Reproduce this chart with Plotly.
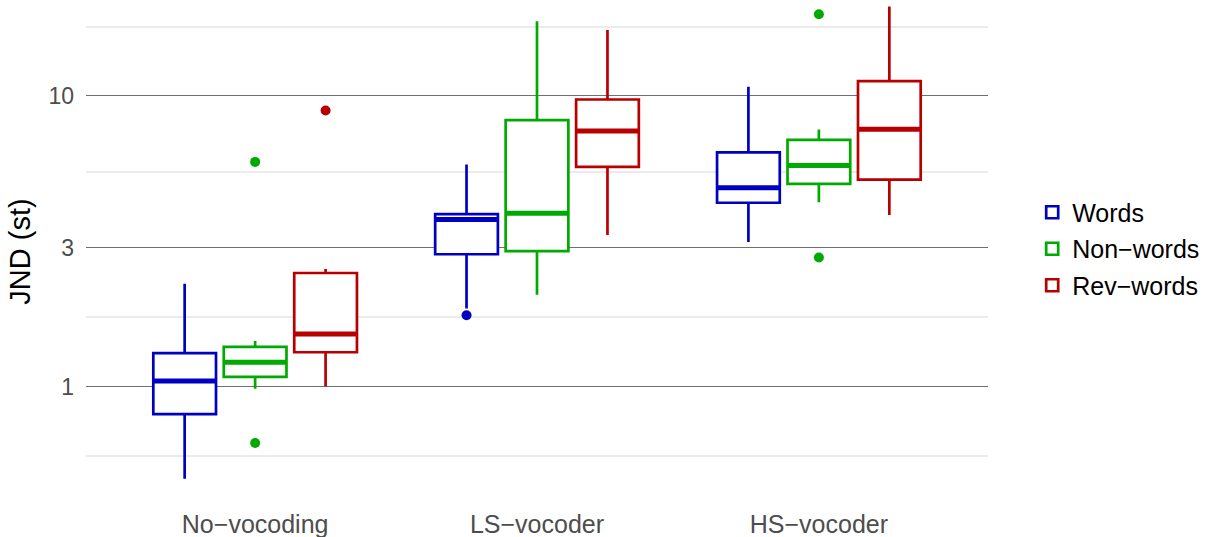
import plotly.graph_objects as go

# ---------------- data ----------------
categories = ["No−vocoding", "LS−vocoder", "HS−vocoder"]
series_names = ["Words", "Non−words", "Rev−words"]
series_colors = ["#0000C0", "#00AA00", "#B80000"]

# per series: lists over categories
words_lower = [0.482, 1.858, 3.145]
words_q1 = [0.804, 2.853, 4.29]
words_median = [1.046, 3.76, 4.83]
words_q3 = [1.303, 3.92, 6.39]
words_upper = [2.26, 5.81, 10.75]
words_outlier_x = ["LS−vocoder"]
words_outlier_y = [1.761]

nonwords_lower = [0.983, 2.071, 4.31]
nonwords_q1 = [1.081, 2.924, 4.98]
nonwords_median = [1.214, 3.95, 5.76]
nonwords_q3 = [1.369, 8.26, 7.06]
nonwords_upper = [1.436, 18.05, 7.66]
nonwords_outlier_x = ["No−vocoding", "No−vocoding", "HS−vocoder", "HS−vocoder"]
nonwords_outlier_y = [5.93, 0.640, 19.1, 2.78]

revwords_lower = [1.0, 3.32, 3.89]
revwords_q1 = [1.313, 5.70, 5.15]
revwords_median = [1.517, 7.57, 7.68]
revwords_q3 = [2.459, 9.72, 11.25]
revwords_upper = [2.54, 16.86, 20.3]
revwords_outlier_x = ["No−vocoding"]
revwords_outlier_y = [8.915]

y_major_ticks = [1, 3, 10]
y_major_labels = ["1", "3", "10"]
y_minor_ticks = [0.5774, 1.7321, 5.4772, 17.3205]

series = [
    (words_lower, words_q1, words_median, words_q3, words_upper, words_outlier_x, words_outlier_y),
    (nonwords_lower, nonwords_q1, nonwords_median, nonwords_q3, nonwords_upper, nonwords_outlier_x, nonwords_outlier_y),
    (revwords_lower, revwords_q1, revwords_median, revwords_q3, revwords_upper, revwords_outlier_x, revwords_outlier_y),
]

FONT = "Liberation Sans, Arial, Helvetica, sans-serif"

fig = go.Figure()

# main boxes
for name, color, (lo, q1, med, q3, up, ox, oy) in zip(series_names, series_colors, series):
    fig.add_trace(go.Box(
        name=name, x=categories, q1=q1, median=med, q3=q3,
        lowerfence=lo, upperfence=up,
        offsetgroup=name, legendgroup=name,
        line=dict(color=color, width=2.7), fillcolor="white",
        whiskerwidth=0, boxpoints=False, hoverinfo="skip",
    ))

# thick median overlays
for name, color, (lo, q1, med, q3, up, ox, oy) in zip(series_names, series_colors, series):
    fig.add_trace(go.Box(
        name=name, x=categories, q1=med, median=med, q3=med,
        lowerfence=med, upperfence=med,
        offsetgroup=name, legendgroup=name, showlegend=False,
        line=dict(color=color, width=5), fillcolor="rgba(0,0,0,0)",
        whiskerwidth=0, boxpoints=False, hoverinfo="skip",
    ))

# outliers
for name, color, (lo, q1, med, q3, up, ox, oy) in zip(series_names, series_colors, series):
    fig.add_trace(go.Box(
        name=name, x=ox, y=oy,
        offsetgroup=name, legendgroup=name, showlegend=False,
        line=dict(color="rgba(0,0,0,0)", width=0), fillcolor="rgba(0,0,0,0)",
        whiskerwidth=0, boxpoints="all", jitter=0, pointpos=0,
        marker=dict(color=color, size=10),
        hoverinfo="skip",
    ))

fig.update_layout(
    width=1207, height=537,
    margin=dict(l=86, r=219, t=0, b=34, autoexpand=False),
    paper_bgcolor="white", plot_bgcolor="white",
    boxmode="group", boxgap=0.25, boxgroupgap=0.11,
    font=dict(family=FONT, size=24, color="#4d4d4d"),
    legend=dict(
        x=1.049, y=0.505, xanchor="left", yanchor="middle",
        font=dict(family=FONT, size=25, color="black"),
        traceorder="grouped", tracegroupgap=1,
        bgcolor="rgba(0,0,0,0)",
    ),
    showlegend=True,
)

fig.update_xaxes(
    type="category", categoryorder="array", categoryarray=categories,
    range=[-0.6, 2.6], showgrid=False, zeroline=False, showline=False,
    ticks="", ticklabelstandoff=4, automargin=False,
    tickfont=dict(family=FONT, size=25, color="#4d4d4d"),
)

fig.update_yaxes(
    type="log", range=[-0.4004, 1.330],
    tickmode="array", tickvals=y_major_ticks, ticktext=y_major_labels,
    showgrid=True, gridcolor="#707070", gridwidth=1,
    minor=dict(tickmode="array", tickvals=y_minor_ticks, showgrid=True,
               gridcolor="#ebebeb", gridwidth=1.5, ticks=""),
    zeroline=False, showline=False, ticks="", ticklabelstandoff=11, automargin=False,
    tickfont=dict(family=FONT, size=23, color="#4d4d4d"),
    title=dict(text="JND (st)", font=dict(family=FONT, size=29, color="black"), standoff=9),
)

fig.write_html("out.html", config={"displayModeBar": False},
               post_script="document.body.style.margin='0';")
